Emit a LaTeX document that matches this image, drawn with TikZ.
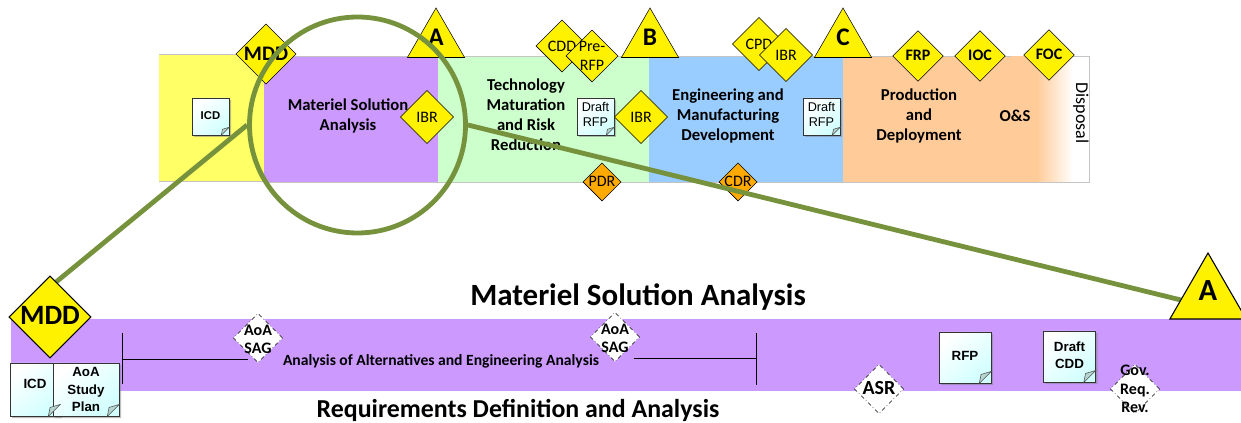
\documentclass[tikz,border=0pt]{standalone}
\usepackage{fontspec}
\setmainfont{Carlito}
\newfontfamily\notefont{Liberation Sans}
\usetikzlibrary{shapes.geometric}
\usetikzlibrary{shapes.misc}
\usetikzlibrary{shadows}
\definecolor{bandY}{HTML}{FFFF66}
\definecolor{bandP}{HTML}{CC99FF}
\definecolor{bandG}{HTML}{CCFFCC}
\definecolor{bandB}{HTML}{99CCFF}
\definecolor{bandO}{HTML}{FFCC99}
\definecolor{bandL}{HTML}{C4C4C4}
\definecolor{amber}{HTML}{FFAA00}
\definecolor{olive}{HTML}{76923C}
\definecolor{foldC}{HTML}{B5D5D0}
\newcommand{\ztext}[2][0pt]{\smash{\makebox[0pt]{\raisebox{\dimexpr#1-.33em}{\begin{tabular}{@{}c@{}}#2\end{tabular}}}}}
\tikzstyle{event} = [diamond,aspect=1,draw=black,fill=yellow,inner sep=0pt,font=\bfseries\fontsize{12}{13}\selectfont]
\tikzstyle{small} = [event,fill=amber,minimum size=28.5pt,font=\fontsize{12}{13}\selectfont]
\tikzstyle{review} = [diamond,aspect=1,draw=black,dash dot,fill=white,inner sep=0pt,minimum size=37pt,font=\bfseries\fontsize{12}{14}\selectfont]
\tikzstyle{mile} = [regular polygon,regular polygon sides=3,draw=black,fill=yellow,inner sep=0pt,minimum size=49.5pt,font=\bfseries\fontsize{19}{19}\selectfont]
\tikzstyle{doc} = [chamfered rectangle,chamfered rectangle corners=south east,draw=black!80,inner sep=0pt,
  left color=white,right color=cyan!18,shading angle=40,drop shadow={opacity=.5,shadow xshift=1.5pt,shadow yshift=-1.5pt},font=\notefont\fontsize{9.5}{11}\selectfont]
\tikzstyle{docS} = [doc,minimum width=27.75pt,minimum height=27.75pt,chamfered rectangle xsep=6pt,chamfered rectangle ysep=6pt]
\tikzstyle{docL} = [doc,minimum width=39pt,minimum height=38.5pt,chamfered rectangle xsep=9pt,chamfered rectangle ysep=9pt,font=\notefont\bfseries\fontsize{10}{13}\selectfont]
\tikzstyle{phase} = [align=center,font=\bfseries\fontsize{12.5}{15}\selectfont]
\tikzstyle{head} = [inner sep=0pt,font=\bfseries\fontsize{23.2}{26}\selectfont]
\tikzstyle{zoomline} = [draw=olive,line width=3.6pt]
\begin{document}
\begin{tikzpicture}[x=.75pt,y=-.75pt]
\useasboundingbox (0,0) rectangle (1241,423);

% Bands
\foreach \xa/\xb/\ya/\c in {159/264/54/bandY,264/438/56/bandP,438/649/56/bandG,649/843/56/bandB,843/1037/56/bandO}
  \fill[\c] (\xa,\ya) rectangle (\xb,182);
\shade[left color=bandO,right color=white] (1037,56) rectangle (1073,182);
\draw[bandL] (159,54) -- (264,54);
\draw[bandL] (264,56) -- (1011,56);
\draw[bandL] (1060,56) -- (1089,56) -- (1089,182) -- (264,182);
\draw[bandL] (159,181) -- (264,181);
\fill[bandP] (11,319) rectangle (1241,391);

% Labels in the top band
\node[phase] (msa) at (348,116) {Materiel Solution\\Analysis};
\node[phase] (tmr) at (526,115) {Technology\\Maturation\\and Risk\\Reduction};
\node[phase] (emd) at (728,116) {Engineering and\\Manufacturing\\Development};
\node[phase] (pd)  at (919,116) {Production\\and\\Deployment};
\node[phase] (os)  at (1015,116) {O\&S};
\node[phase,rotate=-90,font=\fontsize{13.5}{15}\selectfont] (disp) at (1081,113) {Disposal};

% Define nodes
\node[docS] (icdT) at (210.5,116.5) {\ztext[1pt]{\fontsize{8.5}{11}\selectfont\bfseries ICD}};
\node[docS] (rfpA) at (595.5,116.5) {\ztext[1pt]{Draft\\RFP}};
\node[docS] (rfpB) at (821.5,116.5) {\ztext[1pt]{Draft\\RFP}};

\node[event,minimum size=45pt,font=\bfseries\fontsize{15.5}{17}\selectfont] (mddT) at (266,54) {\ztext{MDD}};
\node[mile] (aT) at (436,41) {\ztext[2pt]{A}};
\node[event,minimum size=40pt,font=\fontsize{12}{14}\selectfont] (ibrA) at (427,117) {\ztext{IBR}};
\node[event,minimum size=39pt,font=\fontsize{12}{14}\selectfont] (cdd) at (562,46) {\ztext{CDD}};
\node[event,minimum size=39pt,font=\fontsize{12}{14}\selectfont] (prf) at (592,56) {\ztext{Pre-\\RFP}};
\node[mile] (bT) at (650,41) {\ztext[2pt]{B}};
\node[event,minimum size=40pt,font=\fontsize{12}{14}\selectfont] (ibrB) at (641,117) {\ztext{IBR}};
\node[small] (pdr) at (602,182) {\ztext{PDR}};
\node[small] (cdr) at (738,182) {\ztext{CDR}};
\node[event,minimum size=40pt,font=\fontsize{12}{14}\selectfont] (cpd) at (759,44) {\ztext{CPD}};
\node[event,minimum size=40pt,font=\fontsize{12}{14}\selectfont] (ibrC) at (786,55) {\ztext{IBR}};
\node[mile] (cT) at (843,41) {\ztext[2pt]{C}};
\node[event,minimum size=38pt] (frp) at (918,56) {\ztext{FRP}};
\node[event,minimum size=38pt] (ioc) at (980,56) {\ztext{IOC}};
\node[event,minimum size=38pt] (foc) at (1049,55) {\ztext{FOC}};

\node[head] (msaH) at (638,297) {Materiel Solution Analysis};
\node[head,font=\bfseries\fontsize{19.4}{22}\selectfont] (rda) at (518,410.5) {Requirements Definition and Analysis};
\node[font=\bfseries\fontsize{11.7}{13}\selectfont] (aoa) at (441,361) {Analysis of Alternatives and Engineering Analysis};

\node[review] (sagA) at (258,338) {\ztext[-1pt]{AoA\\SAG}};
\node[review] (sagB) at (615,337) {\ztext[-1pt]{AoA\\SAG}};
\node[review,font=\bfseries\fontsize{15}{15}\selectfont] (asr) at (879,389) {\ztext{ASR}};
\node[review] (grr) at (1135,389) {\ztext{Gov.\\Req.\\Rev.}};

\node[docL,minimum width=37.5pt,minimum height=40pt] (icdB) at (35,389.5) {\ztext[4pt]{ICD}};
\node[docL,minimum width=49.5pt,minimum height=40pt] (asp) at (86,389.5) {\ztext{AoA\\Study\\Plan}};
\node[docL] (rfp) at (965,357.5) {\ztext[1pt]{RFP}};
\node[docL] (dcdd) at (1069.5,356.5) {\ztext[1pt]{Draft\\CDD}};

% Folded corners
\foreach \n/\s in {icdT/6pt,rfpA/6pt,rfpB/6pt,icdB/9pt,asp/9pt,rfp/9pt,dcdd/9pt}
  \draw[draw=black!70,fill=foldC] (\n.south -| \n.east) ++(-\s,0) -- ++(\s,\s) -- ++(-.85*\s,-.25*\s) -- cycle;

\coordinate (barAt) at (122.5,333);
\coordinate (barAb) at (122.5,384);
\coordinate (barAm) at (122.5,359);
\coordinate (sagAw) at (248,359);
\coordinate (barBt) at (756,333);
\coordinate (barBb) at (756,385);
\coordinate (barBm) at (756,358);
\coordinate (sagBe) at (634,358);

\node[draw=olive,line width=3.6pt,circle,inner sep=0pt,minimum size=162pt] (zoom) at (357.5,125) {};
\coordinate (zw) at (50,287);
\coordinate (ze) at (1185,301);

% Edges
\draw[black,line width=.7pt] (barAt) -- (barAb);
\draw[black,line width=.7pt] (barBt) -- (barBb);
\draw[black,line width=.7pt] (barAm) -- (sagAw);
\draw[black,line width=.7pt] (sagBe) -- (barBm);
\draw[zoomline] (zoom.west) -- (zw);
\draw[zoomline] (zoom.east) -- (ze);

\node[event,line width=.8pt,minimum size=61.5pt,font=\bfseries\fontsize{21}{21}\selectfont] (mddB) at (50,317) {\ztext{MDD}};
\node[mile,line width=.8pt,minimum size=66pt,font=\bfseries\fontsize{23}{23}\selectfont] (aB) at (1208,297) {\ztext[3pt]{A}};
\end{tikzpicture}
\end{document}
